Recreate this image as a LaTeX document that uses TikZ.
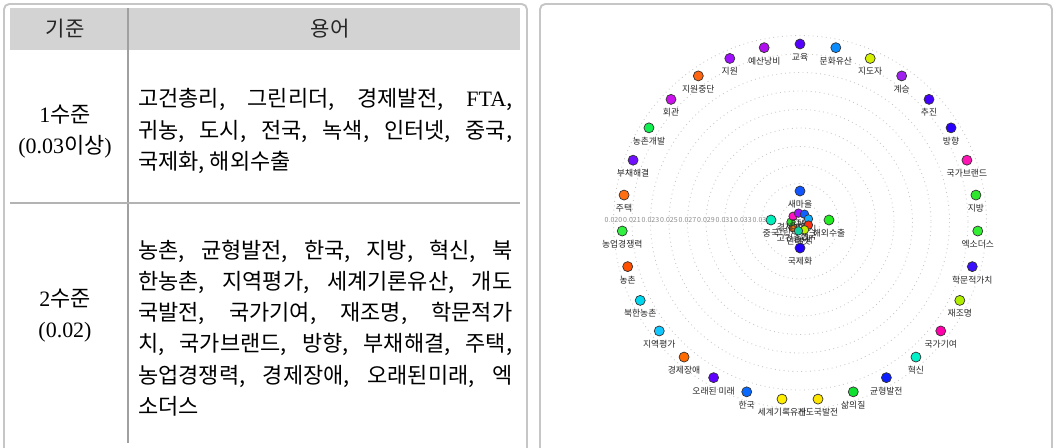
\documentclass[tikz,border=0pt]{standalone}
\usepackage{fontspec}
\setmainfont{Liberation Serif}
\newfontfamily\kr{Noto Sans CJK KR}
\usetikzlibrary{positioning}
\definecolor{panel}{HTML}{C6C6C6}
\definecolor{headfill}{HTML}{D3D3D3}
\definecolor{rule}{HTML}{A0A0A0}
\definecolor{ring}{HTML}{C8C8C8}
\tikzset{panelbox/.style={draw=panel,line width=1.1pt,rounded corners=3pt},
         headtxt/.style={font=\kr\fontsize{12}{14}\selectfont,text=black!85},
         crit/.style={font=\kr\fontsize{12.5}{17.6}\selectfont,align=center,inner sep=0pt},
         terms/.style={font=\kr\fontsize{12.5}{17.8}\selectfont,text width=7.48cm,
                       align=justify,inner sep=0pt,anchor=west},
         dot/.style={circle,draw=black!80,line width=0.4pt,minimum size=0.2cm,inner sep=0pt},
         smalldot/.style={dot,minimum size=0.17cm},
         lbl/.style={font=\kr\fontsize{5}{6}\selectfont,text=black!85,inner sep=0pt},
         ticklbl/.style={font=\kr\fontsize{4}{5}\selectfont,text=black!45,inner sep=0pt}}

\begin{document}
\begin{tikzpicture}[x=0.02cm,y=-0.02cm]
\useasboundingbox (0,0) rectangle (1055,447);
\clip (0,0) rectangle (1055,447);
% left panel: table
\draw[panelbox] (4,4) rectangle (527,480);
\fill[headfill] (10,8) rectangle (520,50);
\draw[rule,line width=0.6pt] (128,8) -- (128,443);
\draw[rule!80,line width=0.6pt] (10,203) -- (520,203);
\node[headtxt] (hcrit) at (65,29) {기준};
\node[headtxt] (hterm) at (330,29) {용어};
\node[crit] (lev1) at (65,132) {{\rmfamily 1}수준\\{\rmfamily (0.03}이상{\rmfamily )}};
\node[crit] (lev2) at (65,316) {{\rmfamily 2}수준\\{\rmfamily (0.02)}};
\node[terms] (t1) at (138,131) {고건총리, 그린리더, 경제발전, {\rmfamily FTA},\linebreak
  귀농, 도시, 전국, 녹색, 인터넷, 중국,\linebreak 국제화, 해외수출};
\node[terms] (t2) at (138,328) {농촌, 균형발전, 한국, 지방, 혁신, 북\linebreak
  한농촌, 지역평가, 세계기론유산, 개도\linebreak
  국발전, 국가기여, 재조명, 학문적가\linebreak
  치, 국가브랜드, 방향, 부채해결, 주택,\linebreak
  농업경쟁력, 경제장애, 오래된미래, 엑\linebreak 소더스};
% right panel: radial graph
\draw[panelbox] (540,4) rectangle (1052,480);
\coordinate (c) at (800,222);
\foreach \r in {20,38.5,57,75.5,94,112.5,131,149.5,168,186.5}
  \draw[ring,dotted,line width=0.5pt] (c) circle[radius=\r];
\foreach \r/\v [count=\k] in {186.5/0.020,168/0.021,149.5/0.023,131/0.025,112.5/0.027,
    94/0.029,75.5/0.031,57/0.033,38.5/0.035}
  \node[ticklbl] (tk\k) at ([shift={(-\r,-2)}]c) {\v};
\foreach \lab/\hex [count=\i from 0] in {교육/5500FF,문화유산/0A8CFF,지도자/D4F000,
    계승/A020F0,추진/4400FF,방향/2A00FF,국가브랜드/FF14B4,지방/2EE62E,엑소더스/33EE33,
    학문적가치/3A10FF,재조명/B0EE00,국가기여/FF00AA,혁신/00F0C8,균형발전/0A1EFF,
    삶의질/10E030,개도국발전/FFE600,세계기록유산/FFEE00,한국/0A6AFF,오래된 미래/6000FF,
    경제장애/FF6A00,지역평가/10C8FF,북한농촌/00D8F0,농촌/FF5000,농업경쟁력/30F040,
    주택/FF6E10,부채해결/7010FF,농촌개발/10F050,회관/CC10EE,지원중단/FF6410,
    지원/A010FF,예산낭비/B010F0}{
  \definecolor{dotc}{HTML}{\hex}
  \node[dot,fill=dotc] (o\i) at ([shift={(\i*360/31-90:178)}]c) {};
  \node[lbl,below=2pt of o\i] (ol\i) {\lab};
}
% centre cluster
\foreach \lab/\hex/\x/\y in {새마을/1155FF/800/191,중국/00EEBB/771/220,
    해외수출/22EE22/829/220,국제화/2200FF/800/248}{
  \definecolor{dotc}{HTML}{\hex}
  \node[dot,fill=dotc] (m\lab) at (\x,\y) {};
  \node[lbl,below=2pt of m\lab] (ml\lab) {\lab};
}
\foreach \lab/\hex [count=\j] in {고건총리/FF7A10,그린리더/30E030,경제발전/FF10C0,
    FTA/A010FF,귀농/1060FF,도시/10B0FF,전국/FF3010,녹색/C0F000,인터넷/10D0A0}{
  \definecolor{dotc}{HTML}{\hex}
  \node[smalldot,fill=dotc] (n\j) at ([shift={(\j*40+100:9)}]c) {};
  \node[lbl,below=1pt of n\j] (nl\j) {\lab};
}
\end{tikzpicture}
\end{document}
